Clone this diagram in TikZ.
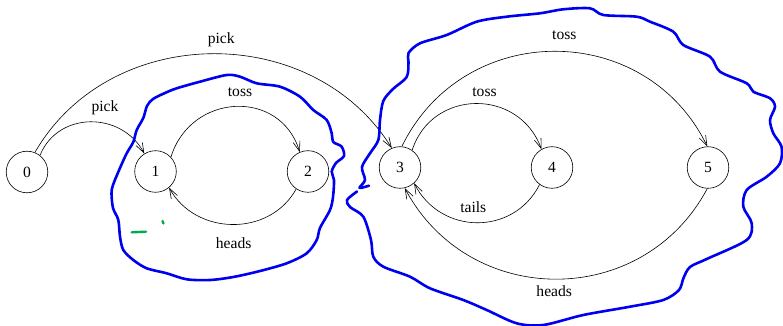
\documentclass[tikz,border=0pt]{standalone}
\usepackage{fontspec}
\setmainfont{Liberation Serif}
\usetikzlibrary{arrows.meta}
\definecolor{greenmark}{RGB}{0,170,80}
\definecolor{bluemark}{RGB}{0,0,240}
\begin{document}
\begin{tikzpicture}[x=1pt,y=1pt,
  state/.style={circle,draw,line width=0.6pt,minimum size=41.6pt,inner sep=0pt,font=\fontsize{15.6}{18}\selectfont},
  lbl/.style={inner sep=0pt,font=\fontsize{15.6}{18}\selectfont},
  trans/.style={draw,line width=0.6pt,-{Straight Barb[length=10pt,width=7pt]}},
  blueline/.style={draw=bluemark,line width=2.6pt,line cap=round,line join=round},
  greenline/.style={draw=greenmark,line width=2.4pt,line cap=round}]
\useasboundingbox (0,0) rectangle (783,326);

% states
\node[state] (n0) at (27,154) {0};
\node[state] (n1) at (155.5,154.5) {1};
\node[state] (n2) at (308,154.5) {2};
\node[state] (n3) at (400,158.5) {3};
\node[state] (n4) at (552,158.5) {4};
\node[state] (n5) at (708,158.5) {5};

% transitions
\draw[trans] (n0.52) to[out=68,in=118,distance=48pt] (n1.122);
\draw[trans] (n0.68) to[out=60,in=122,distance=150pt] (n3.113);
\draw[trans] (n1.43) to[out=73,in=107,distance=67pt] (n2.113);
\draw[trans] (n2.236) to[out=241,in=299,distance=55pt] (n1.310);
\draw[trans] (n3.55) to[out=72,in=110,distance=65pt] (n4.120);
\draw[trans] (n4.234) to[out=243,in=297,distance=58pt] (n3.312);
\draw[trans] (n3.85) to[out=64,in=116,distance=141pt] (n5.92);
\draw[trans] (n5.268) to[out=242,in=298,distance=137pt] (n3.283);

% labels
\node[lbl] (lpickA) at (105,218.5) {pick};
\node[lbl] (lpickB) at (221.2,286) {pick};
\node[lbl] (ltossA) at (240,234.3) {toss};
\node[lbl] (lheadsA) at (233.7,83) {heads};
\node[lbl] (ltossB) at (484.5,234.3) {toss};
\node[lbl] (ltossC) at (564.3,291) {toss};
\node[lbl] (ltails) at (473.3,119) {tails};
\node[lbl] (lheadsB) at (554.2,35.2) {heads};

% hand-drawn marks (pixel coordinates, y downwards)
\begin{scope}[shift={(0,326)},yscale=-1]
\draw[blueline] plot[smooth cycle,tension=0.5] coordinates {
 (153,99) (165,93) (176.7,88.3) (200,81.7) (226.7,75) (240,76.7) (256.7,83.3)
 (280,86.7) (300,96.7) (313.3,110) (326.7,120) (331.7,133.3) (333.3,142)
 (341.5,146.5) (344,156) (336,163) (331.7,171.7) (334,180) (333,197) (330,210)
 (320,228) (316.7,240) (306.7,253.3) (286.7,263.3) (260,271) (233.3,277)
 (210,280) (186.7,279.3) (166.7,273.3) (146.7,268.3) (133.3,260) (123.3,250)
 (120,236.7) (118.3,220) (113,208) (111.5,193.3) (113,185) (120,168)
 (126.7,153.3) (133.3,142) (136.7,130) (143.3,118) (147,106)};
\draw[blueline] plot[smooth,tension=0.5] coordinates {
 (369,185.7) (359.5,187.8) (365,180) (362,167) (370,153.3) (378.3,140) (380,120)
 (383.3,101) (393,89) (406.7,77) (408.5,62) (408.5,53) (420,43.3) (446.7,35)
 (476.7,21.7) (506.7,16.7) (540,13.3) (563.3,9.3) (590,8.3) (603.3,15)
 (636.7,16.7) (650,21.7) (673.3,31.7) (683.3,45) (710,56.7) (720,71.7)
 (746.7,83.3) (753.3,91.7) (770,98.3) (775,106.7) (770,120) (773.3,133.3)
 (781.5,146.7) (780,163.3) (766.7,176.7) (746.7,190) (743.3,206.7)
 (751.7,223.3) (746.7,240) (706.7,259) (690,267) (683.5,278) (679,290)
 (663.3,300) (630,306.7) (583.3,315) (543.3,325) (516.7,323.3) (486.7,310)
 (463.3,300) (430,288.3) (410,276.7) (383.3,266.7) (373.3,256.7) (371,240)
 (363.3,216.7) (350,207) (347,200) (357,191.5)};
\coordinate (gA) at (131.7,232.3);
\coordinate (gB) at (146,231.7);
\coordinate (gC) at (162.5,221);
\coordinate (gD) at (163.5,223.5);
\draw[greenline] (gA) -- (gB);
\draw[greenline] (gC) -- (gD);
\end{scope}
\end{tikzpicture}
\end{document}
